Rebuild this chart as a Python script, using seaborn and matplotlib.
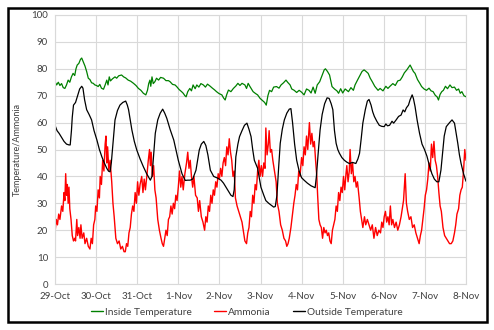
import matplotlib
matplotlib.use("Agg")
import matplotlib.pyplot as plt
from matplotlib.patches import Rectangle
import seaborn as sns
import pandas as pd

# ---------------- data (days since 29-Oct) ----------------
date_labels = ["29-Oct", "30-Oct", "31-Oct", "1-Nov", "2-Nov", "3-Nov",
               "4-Nov", "5-Nov", "6-Nov", "7-Nov", "8-Nov"]
series_names = ["Inside Temperature", "Ammonia", "Outside Temperature"]

inside_day = [0.00, 0.04, 0.08, 0.12, 0.16, 0.20, 0.24, 0.28, 0.32, 0.36, 0.40, 0.44, 0.48, 0.51, 0.54,
              0.58, 0.62, 0.65, 0.69, 0.73, 0.77, 0.81, 0.85, 0.89, 0.93, 0.97, 1.01, 1.05, 1.09, 1.13,
              1.18, 1.22, 1.26, 1.29, 1.32, 1.35, 1.40, 1.46, 1.50, 1.55, 1.62, 1.67, 1.72, 1.78, 1.84,
              1.91, 1.97, 2.03, 2.09, 2.15, 2.21, 2.25, 2.28, 2.31, 2.33, 2.36, 2.39, 2.43, 2.47, 2.52,
              2.57, 2.64, 2.70, 2.76, 2.80, 2.86, 2.92, 2.96, 3.02, 3.08, 3.12, 3.16, 3.19, 3.23, 3.28,
              3.32, 3.36, 3.41, 3.45, 3.50, 3.55, 3.61, 3.66, 3.71, 3.77, 3.83, 3.88, 3.93, 3.99, 4.06,
              4.10, 4.14, 4.18, 4.22, 4.28, 4.34, 4.40, 4.45, 4.50, 4.55, 4.62, 4.66, 4.70, 4.74, 4.82,
              4.88, 4.93, 4.99, 5.05, 5.10, 5.14, 5.18, 5.22, 5.27, 5.32, 5.39, 5.45, 5.50, 5.56, 5.62,
              5.66, 5.72, 5.76, 5.82, 5.88, 5.94, 6.00, 6.06, 6.12, 6.18, 6.23, 6.28, 6.33, 6.38, 6.44,
              6.50, 6.55, 6.58, 6.63, 6.68, 6.74, 6.80, 6.86, 6.90, 6.95, 7.00, 7.06, 7.14, 7.20, 7.26,
              7.30, 7.36, 7.42, 7.47, 7.52, 7.57, 7.62, 7.67, 7.72, 7.78, 7.86, 7.91, 7.98, 8.05, 8.10,
              8.15, 8.22, 8.28, 8.34, 8.40, 8.45, 8.50, 8.56, 8.60, 8.64, 8.68, 8.72, 8.76, 8.82, 8.88,
              8.92, 8.98, 9.04, 9.10, 9.15, 9.20, 9.25, 9.30, 9.33, 9.37, 9.41, 9.45, 9.50, 9.55, 9.61,
              9.66, 9.72, 9.77, 9.82, 9.86, 9.90, 9.95, 10.00]
inside_val = [75.2, 74, 75, 73.8, 74.5, 73, 72.7, 74, 75.8, 75, 77, 78.3, 77.5, 80, 81.4,
              82, 83.5, 84, 82.5, 81, 79, 76.5, 76, 74.8, 74.6, 74, 73.8, 73.4, 74.2, 72.8,
              72.4, 74, 75.8, 74, 77, 75.5, 76.3, 77, 76.5, 77.4, 77.7, 77, 76.6, 75.8, 75.4,
              74.6, 73.8, 72.7, 72, 70.9, 70.3, 72, 74.5, 75.8, 73.5, 77, 74.5, 75.2, 76.5, 75.8,
              76.8, 76.5, 75.6, 75.6, 75.2, 74.2, 74, 73.4, 72.3, 71.5, 70.9, 70, 69.6, 71.5, 72.7,
              71.8, 74, 72.6, 74, 73.2, 74.5, 74, 73.2, 74.3, 73.6, 72.8, 72.2, 71.5, 70.8, 70.3,
              69.2, 68.4, 70.5, 72.1, 71.5, 72.7, 73.6, 74.6, 73.8, 74.6, 74, 72.7, 74.6, 73.5, 71.5,
              70.8, 70.3, 69, 68.2, 67.5, 66.5, 70, 72, 71.5, 73.2, 73.4, 72.8, 74, 74.8, 75.8,
              75, 74, 72.5, 72, 71.2, 72, 71.3, 70.3, 72.5, 72, 71, 73.2, 70.9, 74, 75.2,
              77.6, 79.6, 80, 79, 77.7, 73.4, 72.5, 71.8, 70.9, 72.6, 71, 72.5, 71.5, 73, 72,
              74, 75.8, 77.5, 79, 79.6, 79, 78.3, 76.5, 75.2, 73.5, 72, 72.7, 71.8, 73.5, 72.7,
              73.5, 74.5, 73.8, 75.5, 75.8, 77, 78.5, 79.6, 80.5, 81.4, 80.2, 79, 78.3, 76, 74.5,
              73.4, 72.5, 72, 72.8, 71.8, 71.5, 70.2, 69.5, 68.4, 70.5, 71.5, 72, 73.5, 72.6, 74,
              73, 73.2, 72, 72.5, 70.9, 71.5, 70, 69.6]

ammonia_day = [0.00, 0.03, 0.06, 0.09, 0.12, 0.16, 0.19, 0.22, 0.24, 0.26, 0.28, 0.30, 0.32, 0.34, 0.36,
               0.39, 0.42, 0.45, 0.48, 0.50, 0.53, 0.55, 0.58, 0.61, 0.63, 0.66, 0.70, 0.73, 0.77, 0.81,
               0.85, 0.88, 0.91, 0.94, 0.97, 0.99, 1.02, 1.05, 1.08, 1.10, 1.13, 1.16, 1.19, 1.22, 1.24,
               1.26, 1.28, 1.31, 1.34, 1.38, 1.41, 1.44, 1.48, 1.52, 1.56, 1.60, 1.64, 1.68, 1.71, 1.74,
               1.77, 1.80, 1.83, 1.86, 1.89, 1.92, 1.95, 1.98, 2.01, 2.04, 2.07, 2.11, 2.14, 2.17, 2.20,
               2.24, 2.27, 2.30, 2.32, 2.34, 2.37, 2.40, 2.43, 2.46, 2.50, 2.54, 2.58, 2.61, 2.64, 2.67,
               2.70, 2.73, 2.76, 2.79, 2.82, 2.85, 2.88, 2.91, 2.94, 2.97, 3.00, 3.03, 3.06, 3.09, 3.12,
               3.16, 3.20, 3.23, 3.26, 3.29, 3.32, 3.35, 3.38, 3.42, 3.46, 3.49, 3.52, 3.56, 3.60, 3.64,
               3.67, 3.70, 3.73, 3.76, 3.79, 3.82, 3.85, 3.88, 3.91, 3.94, 3.97, 4.00, 4.03, 4.06, 4.09,
               4.12, 4.15, 4.18, 4.21, 4.24, 4.27, 4.30, 4.33, 4.36, 4.39, 4.43, 4.47, 4.51, 4.55, 4.58,
               4.62, 4.66, 4.69, 4.72, 4.75, 4.78, 4.81, 4.84, 4.87, 4.90, 4.93, 4.96, 4.99, 5.02, 5.05,
               5.08, 5.11, 5.13, 5.16, 5.19, 5.21, 5.24, 5.27, 5.30, 5.34, 5.38, 5.41, 5.45, 5.49, 5.53,
               5.57, 5.61, 5.64, 5.67, 5.70, 5.74, 5.78, 5.81, 5.84, 5.87, 5.90, 5.93, 5.96, 6.00, 6.03,
               6.06, 6.09, 6.12, 6.15, 6.19, 6.22, 6.25, 6.28, 6.31, 6.34, 6.37, 6.39, 6.42, 6.45, 6.48,
               6.51, 6.54, 6.57, 6.60, 6.63, 6.66, 6.69, 6.72, 6.75, 6.78, 6.81, 6.84, 6.87, 6.90, 6.93,
               6.96, 6.99, 7.02, 7.05, 7.08, 7.10, 7.13, 7.16, 7.18, 7.21, 7.24, 7.27, 7.30, 7.33, 7.36,
               7.40, 7.43, 7.46, 7.49, 7.53, 7.56, 7.60, 7.64, 7.68, 7.72, 7.76, 7.80, 7.84, 7.88, 7.92,
               7.95, 7.98, 8.01, 8.04, 8.07, 8.10, 8.13, 8.16, 8.19, 8.22, 8.26, 8.30, 8.34, 8.38, 8.42,
               8.45, 8.48, 8.52, 8.55, 8.58, 8.62, 8.66, 8.70, 8.74, 8.78, 8.82, 8.86, 8.89, 8.92, 8.95,
               8.98, 9.01, 9.04, 9.07, 9.10, 9.13, 9.16, 9.19, 9.22, 9.25, 9.28, 9.31, 9.34, 9.37, 9.40,
               9.44, 9.48, 9.52, 9.56, 9.60, 9.64, 9.68, 9.72, 9.75, 9.78, 9.82, 9.85, 9.88, 9.91, 9.94,
               9.97, 10.00]
ammonia_val = [19, 24, 22, 26, 24, 29, 27, 34, 31, 41, 33, 37, 30, 36, 28,
               24, 18, 16, 17, 16, 24, 18, 21, 17, 22, 17, 19, 15, 17, 14,
               13, 17, 15, 22, 24, 29, 27, 35, 32, 40, 37, 46, 42, 52, 55,
               45, 51, 42, 46, 38, 30, 25, 17, 15, 16, 13, 14, 12, 12, 15,
               14, 19, 21, 26, 29, 27, 34, 30, 38, 33, 37, 40, 34, 39, 35,
               41, 46, 50, 44, 49, 40, 44, 35, 32, 24, 20, 17, 15, 14, 17,
               20, 18, 24, 25, 29, 26, 30, 28, 33, 31, 36, 42, 36, 40, 35,
               41, 45, 49, 43, 46, 40, 36, 40, 33, 32, 27, 31, 25, 23, 20,
               25, 23, 29, 27, 33, 30, 35, 33, 38, 36, 41, 39, 43, 40, 45,
               47, 44, 51, 48, 54, 49, 46, 40, 42, 32, 29, 27, 25, 23, 20,
               16, 15, 19, 21, 27, 25, 33, 30, 37, 35, 42, 46, 40, 44, 40,
               45, 43, 58, 48, 52, 57, 49, 50, 46, 42, 38, 30, 27, 22, 20,
               17, 16, 14, 15, 17, 21, 26, 30, 33, 37, 35, 42, 40, 47, 44,
               51, 48, 55, 50, 60, 52, 56, 51, 53, 46, 40, 33, 24, 22, 21,
               17, 21, 19, 20, 18, 19, 16, 15, 20, 22, 24, 29, 27, 34, 31,
               36, 34, 40, 35, 41, 44, 38, 42, 50, 41, 45, 38, 40, 36, 38,
               32, 27, 24, 21, 25, 22, 24, 22, 20, 22, 17, 21, 18, 20, 19,
               23, 21, 25, 27, 23, 25, 22, 29, 22, 24, 21, 23, 20, 22, 25,
               28, 31, 41, 30, 27, 24, 25, 21, 22, 19, 17, 15, 18, 20, 24,
               28, 33, 35, 39, 45, 42, 52, 47, 53, 46, 44, 40, 34, 29, 27,
               21, 18, 17, 16, 15, 15, 16, 19, 22, 26, 28, 33, 35, 36, 42,
               50, 46]

outside_day = [0.00, 0.05, 0.10, 0.16, 0.22, 0.28, 0.34, 0.37, 0.40, 0.42, 0.45, 0.50, 0.55, 0.60, 0.65,
               0.68, 0.72, 0.77, 0.83, 0.89, 0.95, 1.02, 1.08, 1.14, 1.20, 1.26, 1.30, 1.34, 1.37, 1.41,
               1.46, 1.52, 1.58, 1.65, 1.72, 1.76, 1.79, 1.83, 1.87, 1.93, 1.99, 2.07, 2.15, 2.23, 2.32,
               2.36, 2.40, 2.44, 2.50, 2.56, 2.62, 2.67, 2.72, 2.80, 2.89, 2.95, 3.00, 3.09, 3.17, 3.23,
               3.29, 3.35, 3.43, 3.51, 3.56, 3.62, 3.67, 3.72, 3.78, 3.86, 3.95, 4.04, 4.10, 4.16, 4.22,
               4.28, 4.33, 4.36, 4.40, 4.45, 4.49, 4.55, 4.61, 4.67, 4.72, 4.77, 4.81, 4.85, 4.93, 5.01,
               5.08, 5.13, 5.20, 5.26, 5.32, 5.36, 5.40, 5.44, 5.48, 5.53, 5.58, 5.64, 5.70, 5.74, 5.78,
               5.83, 5.88, 5.94, 6.00, 6.06, 6.14, 6.23, 6.33, 6.36, 6.40, 6.45, 6.50, 6.56, 6.62, 6.67,
               6.72, 6.76, 6.80, 6.84, 6.88, 6.92, 6.98, 7.04, 7.10, 7.16, 7.24, 7.32, 7.37, 7.41, 7.45,
               7.49, 7.55, 7.60, 7.64, 7.69, 7.73, 7.77, 7.83, 7.89, 7.95, 8.01, 8.05, 8.09, 8.14, 8.20,
               8.24, 8.30, 8.36, 8.42, 8.47, 8.51, 8.55, 8.60, 8.64, 8.69, 8.72, 8.76, 8.81, 8.87, 8.93,
               8.99, 9.05, 9.11, 9.17, 9.23, 9.29, 9.34, 9.39, 9.43, 9.47, 9.52, 9.60, 9.66, 9.72, 9.76,
               9.80, 9.84, 9.88, 9.94, 10.00]
outside_val = [59, 57, 56, 54.5, 53, 52, 51.7, 51.7, 57, 62, 66.5, 67.5, 70, 72.5, 73.5,
               72.8, 68.5, 64.8, 63, 61, 57, 53.5, 50, 47.3, 45, 43, 42, 41.7, 45, 52.3,
               61, 64.5, 66.5, 67.5, 68, 66.5, 64.8, 61, 57.3, 53, 49.8, 46.5, 43.6, 41, 38.6,
               40, 48, 56, 61, 63.5, 65, 63.5, 61.6, 57.5, 53.5, 49.5, 46, 41, 38.5, 38.6,
               38.6, 39, 42.3, 49.8, 52, 53, 51.5, 48, 42.3, 40, 39.4, 38.6, 37.5, 36, 34.5,
               33, 32.5, 35, 47.3, 52, 54.8, 57, 59, 59.8, 57.5, 54.8, 50, 46, 43, 36,
               33, 31, 30, 29.3, 28.6, 28.8, 33, 43, 52.3, 57.5, 61, 63.5, 65, 65.2, 60,
               52, 46, 42, 39.5, 38.6, 37.5, 36.5, 35.8, 40, 48, 57.3, 63, 67, 69.2, 69,
               67, 64.8, 57, 52.3, 50, 48.6, 47, 46, 45.3, 44.8, 45.2, 44.8, 46.5, 48.6, 54,
               59.8, 64.8, 68, 68.6, 66.5, 64, 62.3, 60.5, 59, 58.6, 58.5, 59.5, 58.8, 59, 60.5,
               59.8, 61, 62.3, 62.8, 64.7, 64, 65.5, 66.5, 68.5, 70.3, 69, 66, 61, 56, 52,
               50, 47.5, 44, 41, 39, 38, 38, 42.3, 48.6, 55, 58.5, 60, 61, 59.8, 56,
               52.3, 48, 44.8, 41, 38.2]

# ---------------- figure ----------------
sns.set_style("white")
plt.rcParams["font.family"] = ["Lato", "DejaVu Sans"]

W, H = 494, 330
fig = plt.figure(figsize=(W / 100, H / 100), dpi=100)
ax = fig.add_axes([55 / W, 1 - 284 / H, (466 - 55) / W, (284 - 15) / H])

colors = ["#008000", "#ff0000", "#000000"]
widths = [0.9, 1.0, 0.9]
frames = [
    pd.DataFrame({"day": inside_day, "value": inside_val}),
    pd.DataFrame({"day": ammonia_day, "value": ammonia_val}),
    pd.DataFrame({"day": outside_day, "value": outside_val}),
]
for df, name, c, lw in zip(frames, series_names, colors, widths):
    sns.lineplot(data=df, x="day", y="value", ax=ax, color=c, linewidth=lw,
                 estimator=None, sort=False, label=name)

grid_c = "#d9d9d9"
ax.set_xlim(0, 10)
ax.set_ylim(0, 100)
ax.set_xticks(range(len(date_labels)))
ax.set_xticklabels(date_labels)
ax.set_yticks(range(0, 101, 10))
ax.grid(True, color=grid_c, linewidth=0.8)
for s in ax.spines.values():
    s.set_color(grid_c)
    s.set_linewidth(0.8)
ax.tick_params(axis="both", length=0, labelsize=7, colors="#404040", pad=5)
ax.tick_params(axis="x", pad=6)
ax.set_xlabel("")
ax.set_ylabel("Temperature/Ammonia", fontsize=6.5, color="#404040")
ax.yaxis.set_label_coords((22 - 55) / (466 - 55), 0.5)

leg = ax.legend(loc="center", bbox_to_anchor=(0.5, 1 - 312 / H), bbox_transform=fig.transFigure,
                ncol=3, frameon=False, fontsize=7.3, handlelength=1.2, handletextpad=0.2,
                columnspacing=2.2)
for t in leg.get_texts():
    t.set_color("#404040")
for h in leg.get_lines():
    h.set_linewidth(1.0)

# outer border of the chart
fig.patches.append(Rectangle((7.5 / W, 1 - 322 / H), (487 - 7.5) / W, (322 - 7.5) / H,
                             transform=fig.transFigure, fill=False, edgecolor="black",
                             linewidth=1.8, zorder=10))

fig.savefig("out.png", dpi=100)
